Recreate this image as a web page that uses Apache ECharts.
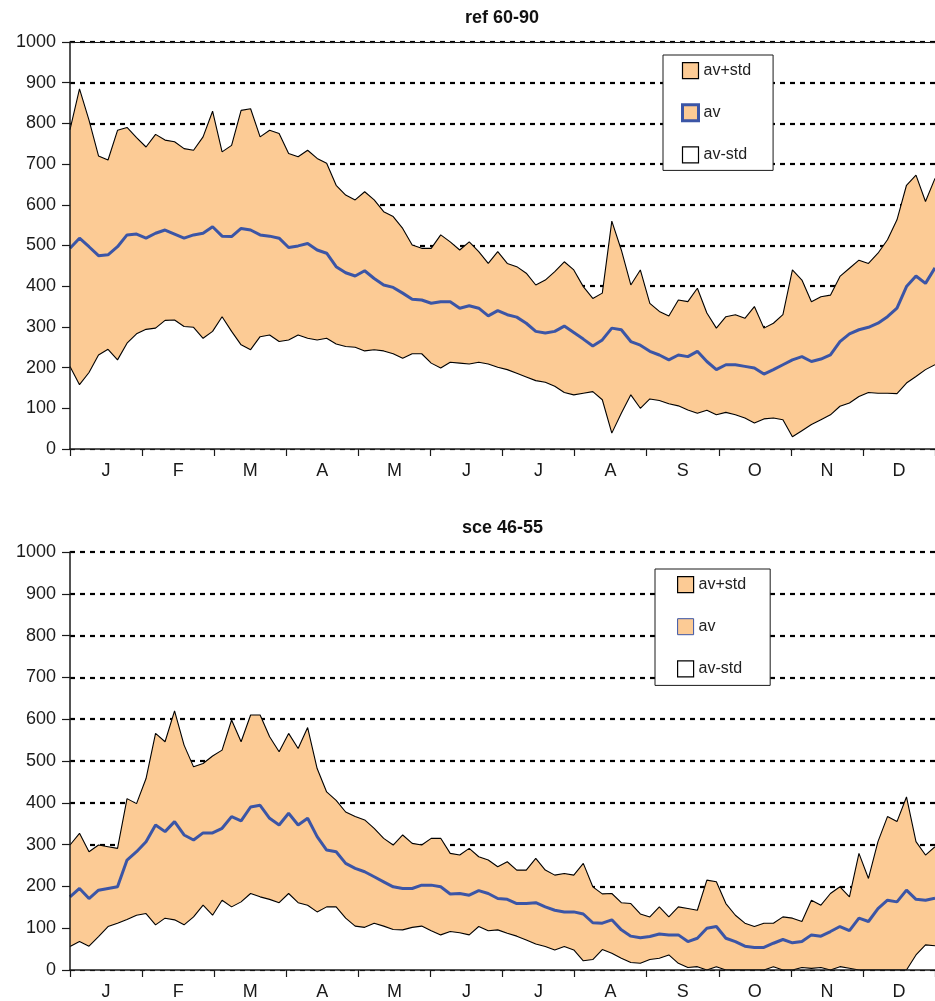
<!DOCTYPE html>
<html>
<head>
<meta charset="utf-8">
<title>ref 60-90 / sce 46-55</title>
<script src="https://cdn.jsdelivr.net/npm/echarts@6/dist/echarts.min.js"></script>
<style>
  html, body { margin: 0; padding: 0; background: #fff; }
  #chart { width: 935px; height: 1001px; }
</style>
</head>
<body>
<div id="chart"></div>
<script>
// Month initials along the year axis
const months = ['J', 'F', 'M', 'A', 'M', 'J', 'J', 'A', 'S', 'O', 'N', 'D'];
// One sample every DAY_STEP days, starting on day 0
const DAY_STEP = 4;
const LAST_DAY = 364;

// ref 60-90: average plus/minus one standard deviation
const refUpper = [
  785, 885, 808, 720, 710, 783, 790, 765, 742, 773,
  759, 755, 738, 734, 767, 830, 730, 746, 832, 836,
  767, 783, 775, 726, 718, 734, 714, 702,
  648, 624, 612, 632, 612, 583, 571, 542, 501, 493,
  493, 526, 509, 489, 509, 485, 456, 485, 456, 448,
  432, 403, 415, 436, 460, 440, 399, 370, 383, 560,
  489, 403, 440,
  358, 338, 327, 366, 362, 395, 334, 297, 325, 330,
  321, 350, 297, 309, 330, 440, 415, 362, 374, 378,
  424, 444, 464, 456, 481, 514, 563, 648, 673, 608, 665
];
const refAv = [
  493, 518, 497, 475, 477, 497, 526, 528, 518, 530,
  538, 528, 518, 526, 530, 546, 523, 522, 542, 538,
  526, 523, 518, 495, 499, 505, 489, 481,
  448, 433, 425, 438, 419, 403, 397, 383, 368, 366,
  358, 362, 362, 346, 352, 346, 327, 340, 330, 324,
  309, 289, 285, 289, 302, 286, 270, 253, 268, 297,
  293, 264, 255,
  240, 231, 219, 231, 227, 240, 215, 195, 207, 207,
  203, 199, 184, 195, 207, 219, 227, 215, 221, 231,
  264, 283, 293, 299, 309, 325, 346, 399, 425, 407, 445
];
const refLower = [
  203, 158, 188, 231, 245, 219, 260, 283, 294, 297,
  316, 317, 301, 299, 272, 289, 325, 289, 256, 244,
  276, 280, 264, 268, 280, 272, 268, 272,
  258, 252, 250, 241, 244, 241, 234, 223, 234, 234,
  211, 199, 213, 211, 209, 213, 209, 201, 195, 186,
  177, 168, 164, 154, 139, 133, 137, 141, 121, 39,
  88, 133, 100,
  123, 119, 111, 106, 96, 88, 95, 84, 90, 84,
  76, 64, 74, 76, 72, 30, 45, 60, 72, 84,
  105, 113, 129, 139, 137, 137, 136, 162, 178, 195, 207
];

// sce 46-55: average plus/minus one standard deviation
const sceUpper = [
  299, 327, 283, 299, 295, 291, 410, 398, 458, 566,
  546, 620, 538, 486, 494, 512, 526, 598, 546, 610,
  610, 558, 522, 566, 530, 580, 482, 426,
  406, 378, 367, 359, 339, 315, 299, 323, 303, 299,
  315, 315, 279, 275, 291, 271, 263, 247, 259, 239,
  239, 267, 239, 227, 231, 227, 255, 199, 182, 183,
  161, 159, 134,
  127, 151, 127, 151, 147, 143, 215, 211, 159, 131,
  112, 104, 112, 112, 127, 124, 116, 167, 155, 183,
  199, 175, 279, 219, 307, 367, 355, 414, 307, 275, 295
];
const sceAv = [
  175, 195, 171, 191, 195, 199, 263, 283, 307, 347,
  331, 355, 323, 311, 328, 328, 339, 367, 357, 390,
  394, 363, 347, 375, 347, 363, 319, 287,
  283, 255, 243, 235, 223, 211, 199, 195, 195, 203,
  203, 199, 182, 183, 179, 190, 183, 171, 169, 159,
  159, 161, 151, 143, 139, 139, 134, 113, 112, 120,
  96, 81, 77,
  80, 86, 84, 84, 68, 76, 100, 104, 76, 68,
  57, 54, 54, 64, 73, 65, 68, 84, 81, 92,
  104, 94, 124, 116, 147, 167, 163, 191, 169, 167, 172
];
const sceLower = [
  56, 68, 57, 80, 104, 112, 121, 131, 135, 108,
  124, 120, 108, 127, 155, 131, 167, 151, 163, 183,
  175, 169, 161, 183, 161, 155, 139, 151,
  151, 124, 105, 102, 112, 105, 97, 96, 102, 105,
  94, 84, 92, 89, 84, 104, 94, 96, 88, 81,
  72, 62, 56, 48, 56, 48, 22, 25, 49, 40,
  28, 18, 16,
  25, 28, 36, 16, 6, 8, 0, 8, 0, 0,
  0, 0, 0, 8, 0, 0, 6, 4, 6, 0,
  8, 4, 0, 0, 0, 0, 0, 0, 36, 60, 58
];

const FILL = '#FCCB95';
const BLUE = '#3B55A6';
const INK = '#1a1a1a';
const FONT = 'Liberation Sans, Arial, sans-serif';

const toPairs = arr => arr.map((v, i) => [i * DAY_STEP, v]);

const grids = [
  { left: 70, top: 42, width: 865, height: 407, outerBoundsMode: 'none', containLabel: false },
  { left: 70, top: 552, width: 865, height: 418, outerBoundsMode: 'none', containLabel: false }
];

const xAxes = [];
const yAxes = [];
grids.forEach((g, gi) => {
  // hidden day axis used by the data
  xAxes.push({
    gridIndex: gi, type: 'value', min: 0, max: LAST_DAY, show: false, position: 'bottom'
  });
  // visible month axis drawn above the filled areas
  xAxes.push({
    gridIndex: gi, type: 'category', data: months, boundaryGap: true, z: 10, position: 'bottom',
    axisLine: { show: true, onZero: false, lineStyle: { color: INK, width: 1.5 } },
    axisTick: { show: true, length: 7, alignWithLabel: false, lineStyle: { color: INK, width: 1.2 } },
    axisLabel: { color: INK, fontSize: 18, fontFamily: FONT, margin: 13 },
    splitLine: { show: false }
  });
  // dashed grid lines, behind the areas
  yAxes.push({
    gridIndex: gi, type: 'value', min: 0, max: 1000, interval: 100, z: 0, position: 'left',
    axisLine: { show: false }, axisTick: { show: false }, axisLabel: { show: false },
    splitLine: { show: true, lineStyle: { color: '#000', width: 2.2, type: [5, 5] } }
  });
  // labelled value axis drawn above the areas
  yAxes.push({
    gridIndex: gi, type: 'value', min: 0, max: 1000, interval: 100, z: 10, position: 'left',
    axisLine: { show: true, onZero: false, lineStyle: { color: INK, width: 1.5 } },
    axisTick: { show: true, length: 8, lineStyle: { color: INK, width: 1.2 } },
    axisLabel: { color: INK, fontSize: 18, fontFamily: FONT, margin: 14, formatter: v => String(v) },
    splitLine: { show: false }
  });
});

// thin frame line along the top of the first plot
xAxes.push({
  gridIndex: 0, type: 'value', min: 0, max: LAST_DAY, position: 'top', z: 10,
  axisLine: { show: true, onZero: false, lineStyle: { color: INK, width: 1 } },
  axisTick: { show: false }, axisLabel: { show: false }, splitLine: { show: false }
});

function bandSeries(gi, upper, av, lower, avWidth) {
  const xi = gi * 2, yi = gi * 2;
  return [
    {
      name: 'av+std', type: 'line', xAxisIndex: xi, yAxisIndex: yi,
      data: toPairs(upper), symbol: 'none', z: 2, silent: true,
      lineStyle: { color: '#000', width: 1.1 },
      itemStyle: { color: FILL },
      areaStyle: { color: FILL, opacity: 1 }
    },
    {
      name: 'av-std', type: 'line', xAxisIndex: xi, yAxisIndex: yi,
      data: toPairs(lower), symbol: 'none', z: 3, silent: true,
      lineStyle: { color: '#000', width: 1.1 },
      itemStyle: { color: '#fff' },
      areaStyle: { color: '#fff', opacity: 1 }
    },
    {
      name: 'av', type: 'line', xAxisIndex: xi, yAxisIndex: yi,
      data: toPairs(av), symbol: 'none', z: 4, silent: true,
      lineStyle: { color: BLUE, width: avWidth },
      itemStyle: { color: BLUE }
    }
  ];
}

function legendFor(pos, avBorder, gap, pad) {
  return {
    orient: 'vertical', left: pos.left, top: pos.top,
    padding: pad, itemGap: gap, itemWidth: 16, itemHeight: 16, itemTextGap: 8,
    backgroundColor: '#fff', borderColor: INK, borderWidth: 1,
    selectedMode: false,
    textStyle: { color: '#222', fontSize: 16, fontFamily: FONT },
    data: [
      { name: 'av+std', icon: 'rect', itemStyle: { color: FILL, borderColor: '#000', borderWidth: 1.2 } },
      { name: 'av', icon: 'rect', itemStyle: { color: FILL, borderColor: BLUE, borderWidth: avBorder } },
      { name: 'av-std', icon: 'rect', itemStyle: { color: '#fff', borderColor: '#000', borderWidth: 1.2 } }
    ]
  };
}

const chart = echarts.init(document.getElementById('chart'), null, { renderer: 'canvas' });
chart.setOption({
  backgroundColor: '#fff',
  animation: false,
  title: [
    { text: 'ref 60-90', left: 465, top: 9, padding: 0,
      textStyle: { fontSize: 18, fontWeight: 'bold', color: '#111', fontFamily: FONT } },
    { text: 'sce 46-55', left: 462, top: 519, padding: 0,
      textStyle: { fontSize: 18, fontWeight: 'bold', color: '#111', fontFamily: FONT } }
  ],
  legend: [
    legendFor({ left: 663, top: 55 }, 3, 24, [7, 22, 7, 18]),
    legendFor({ left: 655, top: 569 }, 1, 25, [7, 24, 8, 22])
  ],
  grid: grids,
  xAxis: xAxes,
  yAxis: yAxes,
  series: [
    ...bandSeries(0, refUpper, refAv, refLower, 3),
    ...bandSeries(1, sceUpper, sceAv, sceLower, 3)
  ]
});
</script>
</body>
</html>
